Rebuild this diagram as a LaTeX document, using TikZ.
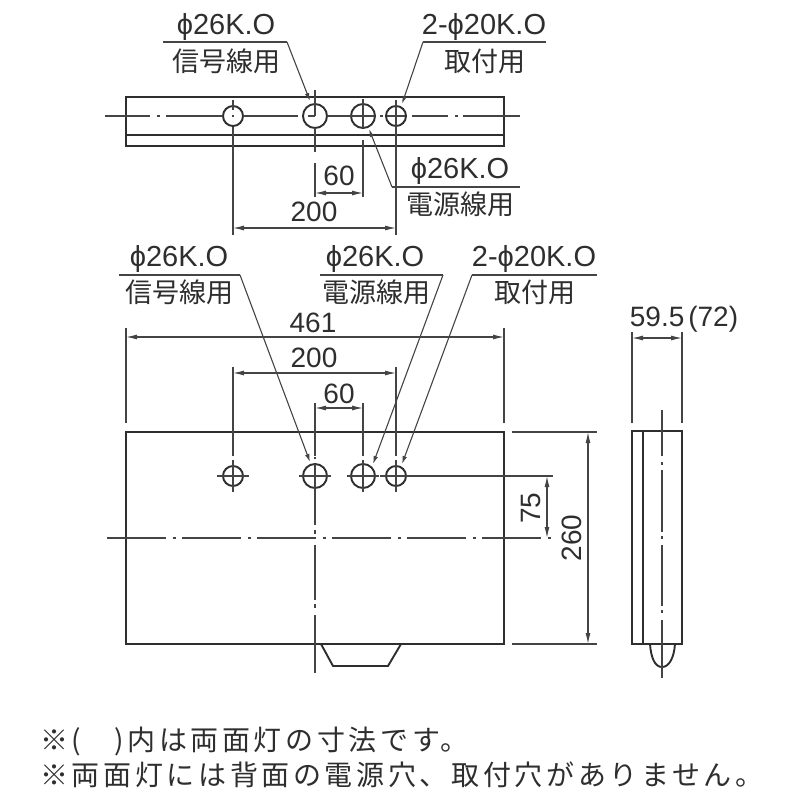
\documentclass[tikz,border=0pt]{standalone}
\usepackage{fontspec}
\usetikzlibrary{arrows.meta}
\setmainfont{Liberation Sans}
\newfontfamily\cjk{Noto Sans CJK JP}
\newfontfamily\cjkspaced[LetterSpace=13]{Noto Sans CJK JP}
\definecolor{ink}{HTML}{2E2E2E}
\definecolor{thin}{HTML}{444444}
\tikzset{
  outline/.style={draw=ink,line width=1.9pt},
  dimline/.style={draw=thin,line width=1.1pt},
  dimarrows/.style={dimline,{Latex[length=11pt,width=5pt]}-{Latex[length=11pt,width=5pt]}},
  leader/.style={dimline,-{Latex[length=8pt,width=4.5pt]}},
  centerl/.style={draw=thin,line width=1.4pt},
  hole/.style={circle,draw=ink,line width=1.9pt,inner sep=0pt,fill=none},
  big/.style={hole,minimum size=24pt},
  small/.style={hole,minimum size=20pt},
  lbl/.style={text=ink,font=\fontsize{28}{30}\selectfont,inner sep=0pt},
  hlbl/.style={text=ink,font=\fontsize{29}{30}\selectfont,inner sep=0pt},
  jlbl/.style={text=ink,font=\fontsize{27}{30}\cjk,inner sep=0pt},
  note/.style={text=ink,font=\fontsize{28}{30}\cjkspaced,inner sep=0pt,anchor=west}
}
\begin{document}
\begin{tikzpicture}[x=1pt,y=-1pt]
\useasboundingbox (0,0) rectangle (800,800);
% ---------- top view
\draw[outline] (126,97) rectangle (504,146);
\draw[outline] (126,135) -- (504,135);
\node[small] (ta) at (233,116) {};
\node[big] (tb) at (315,116) {};
\node[big] (tc) at (363,116) {};
\node[small] (td) at (396,116) {};
% centre line
\draw[centerl] (105,116)--(150,116) (157,116)--(160,116) (166,116)--(223,116)
  (232,116)--(234,116) (243,116)--(298,116) (308,116)--(315,116) (327,116)--(375,116)
  (380,116)--(383,116) (387,116)--(405,116) (412,116)--(448,116) (455,116)--(458,116) (463,116)--(520,116);
% vertical lines
\coordinate (e1) at (233,235);
\coordinate (e2) at (396,235);
\draw[dimline] (233,100)--(233,110) (ta)--(e1);
\draw[dimline] (396,100)--(396,130) (td)--(e2);
\draw[dimline] (315,90)--(315,116) (315,128)--(315,152) (315,163)--(315,197);
\draw[dimline] (363,99)--(363,128) (363,140)--(363,197);
\coordinate (d60a) at (315,193); \coordinate (d60b) at (363,193);
\draw[dimarrows] (d60a)--(d60b);
\coordinate (d200a) at (233,228); \coordinate (d200b) at (396,228);
\draw[dimarrows] (d200a)--(d200b);
\node[lbl] (t60) at (339,176) {60};
\node[lbl] (t200) at (314,212) {200};
% leaders top
\node[hlbl] (ta1) at (226,27) {ϕ26K.O};
\node[jlbl] (ta2) at (226,61) {信号線用};
\coordinate (la0) at (163,42); \coordinate (la1) at (287,42); \coordinate (la2) at (310,101);
\draw[dimline] (la0)--(la1);
\draw[leader] (la1)--(la2);
\node[hlbl] (tb1) at (484,27) {2-ϕ20K.O};
\node[jlbl] (tb2) at (485,61) {取付用};
\coordinate (lb0) at (546,42); \coordinate (lb1) at (423,42); \coordinate (lb2) at (402,104);
\draw[dimline] (lb0)--(lb1);
\draw[leader] (lb1)--(lb2);
\node[hlbl] (tc1) at (460,171) {ϕ26K.O};
\node[jlbl] (tc2) at (460,204) {電源線用};
\coordinate (lc0) at (520,187); \coordinate (lc1) at (392,187); \coordinate (lc2) at (369,129);
\draw[dimline] (lc0)--(lc1);
\draw[leader] (lc1)--(lc2);
% ---------- front view
\draw[outline] (126,432) rectangle (504,644);
\draw[outline] (321,644)--(333,666)--(388,666)--(401,644);
\node[small] (fa) at (233,476) {};
\node[big] (fb) at (315,476) {};
\node[big] (fc) at (363,476) {};
\node[small] (fd) at (396,476) {};
% hole crosses
\draw[dimline] (217,476)--(249,476) (233,460)--(233,492);
\draw[dimline] (299,476)--(331,476) (315,464)--(315,488);
\draw[dimline] (347,476)--(379,476) (363,460)--(363,492);
\draw[dimline] (380,476)--(553,476) (396,460)--(396,492);
% centre lines
\draw[centerl,dash pattern=on 59pt off 6.5pt on 3pt off 6.5pt] (107,538)--(553,538);
\draw[centerl] (315,488)--(315,525) (315,530)--(315,534) (315,545)--(315,600) (315,604)--(315,608) (315,615)--(315,673);
% extension lines
\draw[dimline] (126,328)--(126,423) (504,328)--(504,423);
\draw[dimline] (233,367)--(233,456) (396,367)--(396,456);
\draw[dimline] (315,403)--(315,456) (363,403)--(363,456);
\draw[dimline] (315,457)--(315,459);
\coordinate (a1) at (126,337); \coordinate (a2) at (504,337);
\draw[dimarrows] (a1)--(a2);
\coordinate (b1) at (233,373); \coordinate (b2) at (396,373);
\draw[dimarrows] (b1)--(b2);
\coordinate (c1) at (315,408); \coordinate (c2) at (363,408);
\draw[dimarrows] (c1)--(c2);
\node[lbl] (f461) at (313,323) {461};
\node[lbl] (f200) at (314,358) {200};
\node[lbl] (f60) at (339,394) {60};
% leaders front
\node[hlbl] (fa1) at (179,259) {ϕ26K.O};
\node[jlbl] (fa2) at (179,292) {信号線用};
\coordinate (p0) at (119,275); \coordinate (p1) at (240,275); \coordinate (p2) at (310,462);
\draw[dimline] (p0)--(p1);
\draw[leader] (p1)--(p2);
\node[hlbl] (fb1) at (375,259) {ϕ26K.O};
\node[jlbl] (fb2) at (376,292) {電源線用};
\coordinate (q0) at (320,275); \coordinate (q1) at (443,275); \coordinate (q2) at (373,464);
\draw[dimline] (q0)--(q1);
\draw[leader] (q1)--(q2);
\node[hlbl] (fc1) at (534,259) {2-ϕ20K.O};
\node[jlbl] (fc2) at (535,292) {取付用};
\coordinate (r0) at (597,275); \coordinate (r1) at (472,275); \coordinate (r2) at (402,464);
\draw[dimline] (r0)--(r1);
\draw[leader] (r1)--(r2);
% 75 and 260
\coordinate (s1) at (547,476); \coordinate (s2) at (547,538);
\draw[dimarrows] (s1)--(s2);
\node[lbl,rotate=90] (f75) at (531,508) {75};
\draw[dimline] (512,432)--(597,432) (512,644)--(597,644);
\coordinate (u1) at (588,432); \coordinate (u2) at (588,644);
\draw[dimarrows] (u1)--(u2);
\node[lbl,rotate=90] (f260) at (572,538) {260};
% ---------- side view
\draw[outline] (632,431) rectangle (682,644);
\draw[outline] (643,431)--(643,644);
\draw[outline] (650,644) .. controls (651,658) and (655,667) .. (662,667) .. controls (669,667) and (674,658) .. (675,644);
\draw[centerl] (662,410)--(662,456) (662,462)--(662,465) (662,470)--(662,532) (662,536)--(662,539) (662,545)--(662,606) (662,610)--(662,613) (662,620)--(662,678);
\draw[dimline] (632,332)--(632,423) (682,332)--(682,423);
\coordinate (v1) at (632,338); \coordinate (v2) at (682,338);
\draw[dimarrows] (v1)--(v2);
\node[lbl] (s595) at (684,319) {59.5\hspace{4pt}(72)};
% ---------- notes
\node[note] (n1) at (40,741) {※(\hspace{33pt})内は両面灯の寸法です。};
\node[note] (n2) at (40,775) {※両面灯には背面の電源穴、取付穴がありません。};
\end{tikzpicture}
\end{document}
